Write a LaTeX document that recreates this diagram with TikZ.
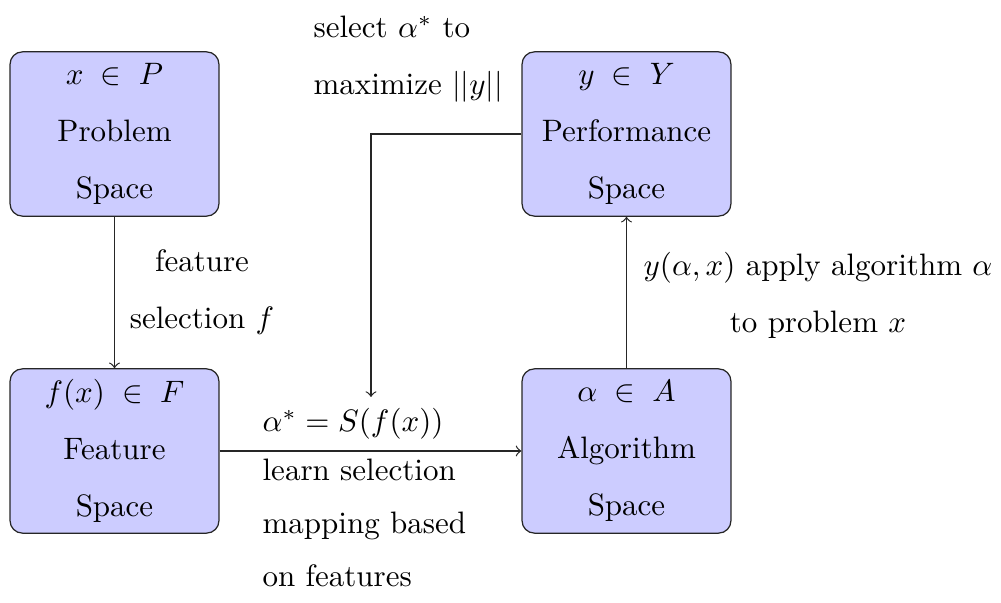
\documentclass[tikz,border=0pt]{standalone}
\begin{document}
\begin{tikzpicture}[
    x=0.3226pt, y=-0.3226pt,
    spacebox/.style={draw=black!85, fill=blue!20, rounded corners=4pt,
      minimum width=67.4pt, minimum height=53pt, inner sep=0pt, align=center},
    lbl/.style={inner sep=0pt},
    flow/.style={->, draw=black!85}
  ]
  \useasboundingbox (0,0) rectangle (1001,603);

  % the four spaces
  \node[spacebox] (P) at (114.5,134) {$x\;\in\;P$\\[6.5pt] Problem\\[6.5pt] Space};
  \node[spacebox] (Y) at (626.5,134) {$y\;\in\;Y$\\[6.5pt] Performance\\[6.5pt] Space};
  \node[spacebox] (F) at (114.5,451) {$f(x)\;\in\;F$\\[6.5pt] Feature\\[6.5pt] Space};
  \node[spacebox] (A) at (626.5,451) {$\alpha\;\in\;A$\\[6.5pt] Algorithm\\[6.5pt] Space};

  % labels
  \node[lbl, align=center] (fsel) at (202,292) {feature\\[6.4pt] selection $f$};
  \node[lbl, align=center] (apply) at (818,295) {$y(\alpha,x)$ apply algorithm $\alpha$\\[6.4pt] to problem $x$};
  \node[lbl, align=left, anchor=west] (maxy) at (313,59) {select $\alpha^*$ to\\[6.4pt] maximize $||y||$};
  \node[lbl, anchor=west] (map) at (262,424) {$\alpha^* = S(f(x))$};
  \node[lbl, align=left, anchor=west] (learn) at (262,523) {learn selection\\[5.1pt] mapping based\\[5.1pt] on features};

  % connectors
  \coordinate (sel) at (371,397);
  \draw[flow] (P) -- (F);
  \draw[flow] (F) -- (A);
  \draw[flow] (A) -- (Y);
  \draw[flow] (Y.west) -| (sel);
\end{tikzpicture}
\end{document}
